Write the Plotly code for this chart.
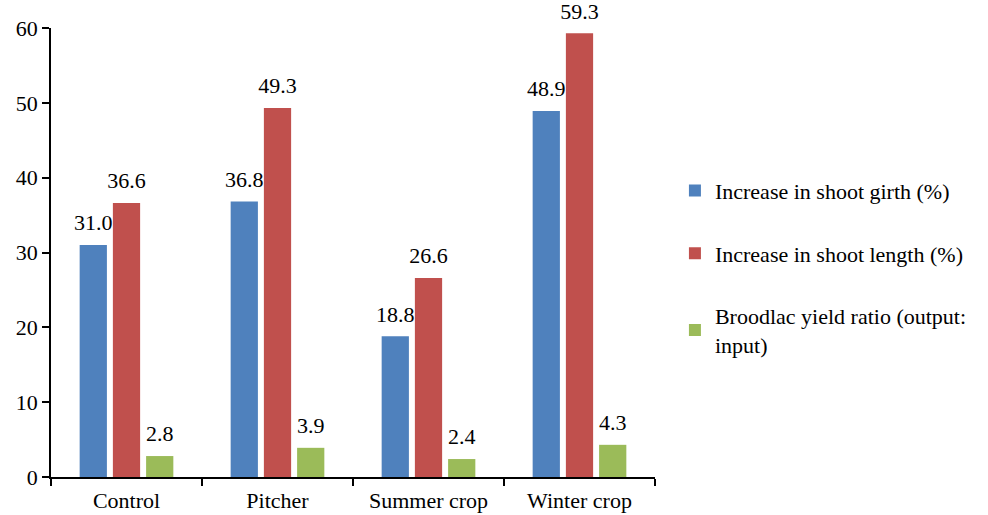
import plotly.graph_objects as go

categories = ["Control", "Pitcher", "Summer crop", "Winter crop"]
shoot_girth = [31.0, 36.8, 18.8, 48.9]
shoot_length = [36.6, 49.3, 26.6, 59.3]
yield_ratio = [2.8, 3.9, 2.4, 4.3]

series_names = [
    "Increase in shoot girth (%)",
    "Increase in shoot length (%)",
    "Broodlac yield ratio (output:<br>input)",
]
series_values = [shoot_girth, shoot_length, yield_ratio]
colors = ["#4F81BD", "#C0504D", "#9BBB59"]

FONT = "Liberation Serif"
SIZE = 22
GAP = 0.34

fig = go.Figure()
for i, (name, vals, col) in enumerate(zip(series_names, series_values, colors)):
    fig.add_trace(go.Bar(
        x=categories,
        y=vals,
        name=name,
        legendgroup=f"g{i}",
        marker=dict(color=col, line=dict(width=0)),
        hoverinfo="x+y",
    ))

# value labels, grouped so they sit over their bars
for i, vals in enumerate(series_values):
    fig.add_trace(go.Scatter(
        x=categories,
        y=vals,
        mode="markers+text",
        marker=dict(size=13, opacity=0),
        text=[f"{v:.1f}" for v in vals],
        textposition="top center",
        textfont=dict(family=FONT, size=SIZE, color="#000000"),
        showlegend=False,
        hoverinfo="skip",
        cliponaxis=False,
    ))

fig.update_layout(
    width=988,
    height=515,
    margin=dict(l=51, r=333, t=28, b=38),
    paper_bgcolor="white",
    plot_bgcolor="white",
    barmode="group",
    bargap=GAP,
    bargroupgap=0.18,
    scattermode="group",
    scattergap=GAP,
    font=dict(family=FONT, size=SIZE, color="#000000"),
    showlegend=True,
    legend=dict(
        x=1.033, xanchor="left",
        y=0.466, yanchor="middle",
        font=dict(family=FONT, size=SIZE, color="#000000"),
        tracegroupgap=31,
        bgcolor="rgba(0,0,0,0)",
    ),
    xaxis=dict(
        showline=True, linecolor="#000000", linewidth=1.5,
        ticks="outside", tickson="boundaries", ticklen=7,
        tickcolor="#000000", tickwidth=1.5,
        showgrid=False, automargin=False,
        ticklabelstandoff=3,
        tickfont=dict(family=FONT, size=SIZE),
    ),
    yaxis=dict(
        range=[0, 60], dtick=10,
        showline=True, linecolor="#000000", linewidth=1.5,
        ticks="outside", ticklen=7, tickcolor="#000000", tickwidth=1.5,
        showgrid=False, zeroline=False, automargin=False,
        tickfont=dict(family=FONT, size=SIZE),
    ),
)

fig.write_html("out.html")
